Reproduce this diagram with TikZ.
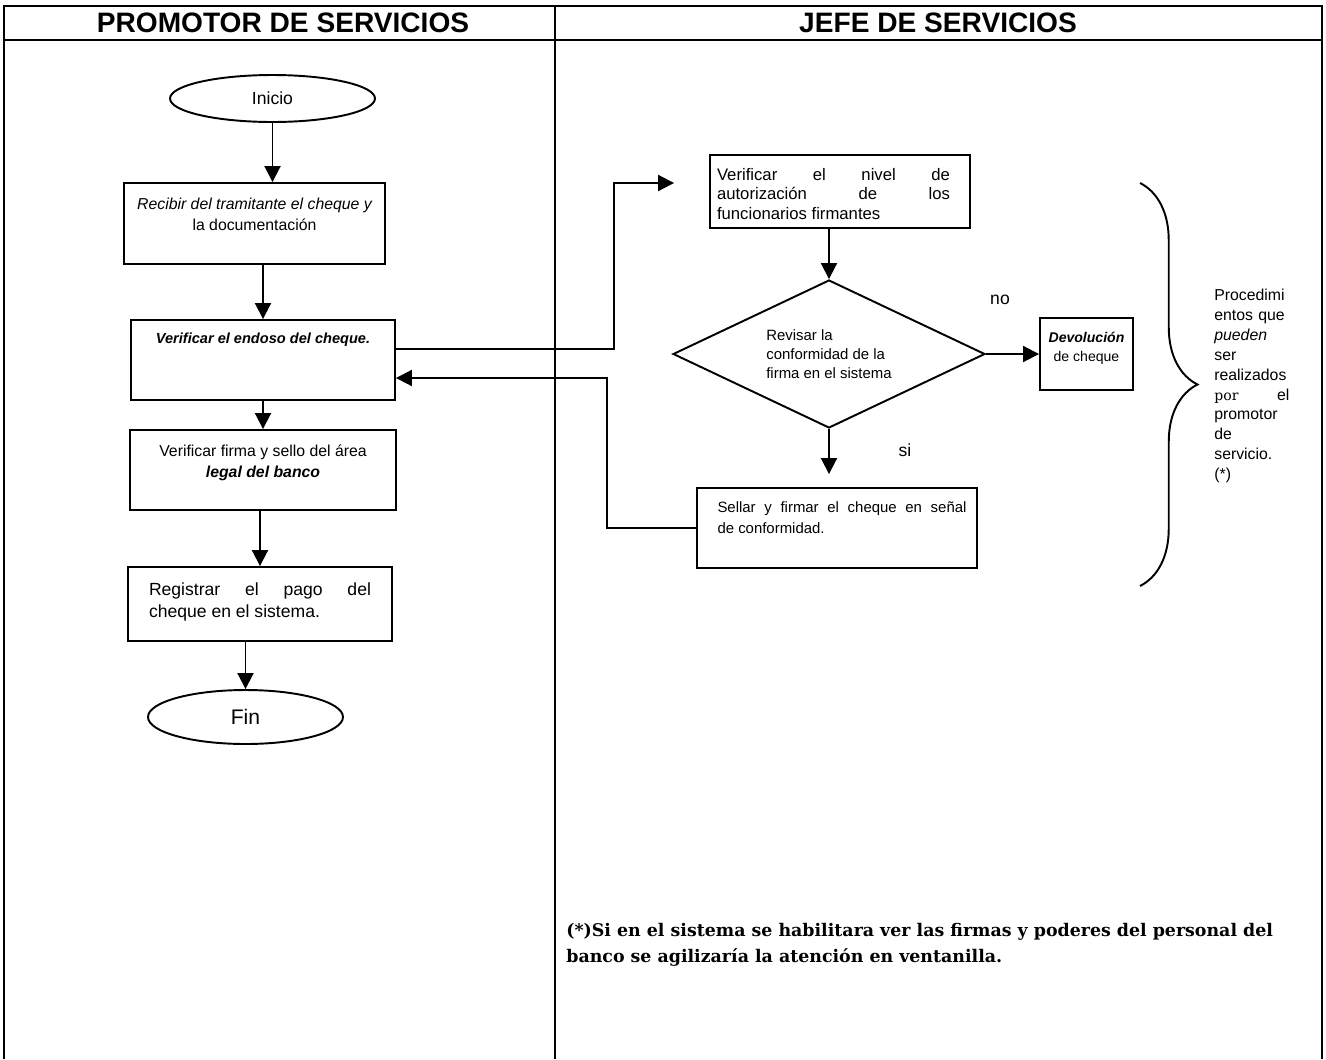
\documentclass[tikz,border=0pt]{standalone}
\usepackage{fontspec}
\setmainfont{Liberation Sans}
\newfontfamily\notefont{DejaVu Serif}
\usetikzlibrary{shapes,arrows.meta,positioning,calc,decorations.pathreplacing}

\tikzset{
  stepbox/.style={draw, line width=1.1pt, inner sep=0pt, font=\fontsize{9}{12}\selectfont},
  terminal/.style={draw, ellipse, line width=1.1pt},
  decision/.style={draw, diamond, aspect=2.1, line width=1.1pt, inner sep=0pt, align=left, font=\fontsize{8.5}{11}\selectfont},
  flow/.style={line width=1.1pt, -{Triangle[length=0.32cm,width=0.32cm]}},
  lane/.style={line width=0.8pt},
  header/.style={font=\fontsize{16}{18}\selectfont\bfseries}
}

\begin{document}
\begin{tikzpicture}[x=0.02cm, y=-0.02cm]
    \useasboundingbox (0,0) rectangle (1326,1059);

    % Swimlanes
    \draw[lane] (4,1059) -- (4,6) -- (1322,6) -- (1322,1059);
    \draw[lane] (4,40) -- (1322,40);
    \draw[lane] (555,6) -- (555,1059);
    \node[header] (promotor) at (283,23) {PROMOTOR DE SERVICIOS};
    \node[header] (jefe) at (938,23) {JEFE DE SERVICIOS};

    % Promotor de servicios
    \node[terminal, minimum width=4.1cm, minimum height=0.94cm, font=\fontsize{10}{12}\selectfont] (inicio) at (272.5,98.5) {Inicio};
    \node[stepbox, minimum width=5.22cm, minimum height=1.62cm] (recibir) at (254.5,223.5)
        {\parbox[c][1.02cm][t]{5.0cm}{\centering\itshape Recibir del tramitante el cheque y\\\upshape la documentación}};
    \node[stepbox, minimum width=5.28cm, minimum height=1.6cm] (endoso) at (263,360)
        {\parbox[c][1.08cm][t]{5.0cm}{\centering\fontsize{8.3}{11}\selectfont\bfseries\itshape Verificar el endoso del cheque.}};
    \node[stepbox, minimum width=5.32cm, minimum height=1.6cm] (firma) at (263,470)
        {\parbox[c][1.0cm][t]{5.0cm}{\centering Verificar firma y sello del área\\\bfseries\itshape legal del banco}};
    \node[stepbox, minimum width=5.28cm, minimum height=1.48cm, font=\fontsize{10}{12.5}\selectfont] (registrar) at (260,604)
        {\parbox[c][0.84cm][t]{4.44cm}{\makebox[\linewidth][s]{Registrar el pago del}\\cheque en el sistema.}};
    \node[terminal, minimum width=3.9cm, minimum height=1.08cm, font=\fontsize{12}{14}\selectfont] (fin) at (245.5,717) {Fin};

    \draw[flow] (inicio.south) -- (inicio.south |- recibir.north);
    \draw[flow] (recibir.south -| endoso.north) -- (endoso.north);
    \draw[flow] (endoso.south) -- (firma.north);
    \draw[flow] (firma.south -| registrar.north) -- (registrar.north);
    \draw[flow] (fin.north |- registrar.south) -- (fin.north);

    % Jefe de servicios
    \node[stepbox, minimum width=5.2cm, minimum height=1.46cm, font=\fontsize{9.5}{11.3}\selectfont] (nivel) at (840,191.5)
        {\hspace*{-0.26cm}\parbox[c][0.94cm][t]{4.66cm}{\makebox[\linewidth][s]{Verificar el nivel de}\\\makebox[\linewidth][s]{autorización de los}\\funcionarios firmantes}};
    \node[decision, minimum width=6.24cm, minimum height=2.96cm] (revisar) at (829,354)
        {Revisar la\\conformidad de la\\firma en el sistema};
    \node[stepbox, minimum width=1.86cm, minimum height=1.44cm, font=\fontsize{8}{10.8}\selectfont] (devolucion) at (1086.5,354)
        {\parbox[c][0.88cm][t]{1.7cm}{\centering\bfseries\itshape Devolución\\\mdseries\upshape de cheque}};
    \node[stepbox, minimum width=5.6cm, minimum height=1.6cm, font=\fontsize{8.5}{12}\selectfont] (sellar) at (837,528)
        {\hspace*{0.2cm}\parbox[c][1.04cm][t]{4.98cm}{\makebox[\linewidth][s]{Sellar y firmar el cheque en señal}\\de conformidad.}};
    \node[font=\fontsize{10}{12}\selectfont] (no) at (1000,300) {no};
    \node[font=\fontsize{10}{12}\selectfont] (si) at (905,450) {si};

    \draw[flow, shorten >=0.7cm] ([yshift=0.22cm]endoso.east) -- ++(218,0) |- ([yshift=0.17cm]nivel.west);
    \draw[flow] (revisar.north |- nivel.south) -- (revisar.north);
    \draw[flow] (revisar.east) -- (devolucion.west);
    \draw[flow, shorten >=0.26cm] (revisar.south) -- (revisar.south |- sellar.north);
    \draw[flow] (sellar.west) -- ++(-89,0) |- ([yshift=-0.36cm]endoso.east);

    % Brace and side note
    \draw[line width=1.1pt, decorate, decoration={brace, amplitude=1.15cm}] (1140,183) -- (1140,586);
    \node[anchor=north west, inner sep=0pt, text width=1.5cm, align=left, font=\fontsize{9}{11.3}\selectfont] (procedimientos) at (1214,289)
        {Procedimi\\entos que\\\textit{pueden}\\ser\\realizados\\\makebox[\linewidth][s]{{\notefont\fontsize{8}{11.3}\selectfont por}\hfill el}\\promotor\\de\\servicio.\\(*)};

    % Footnote
    \node[anchor=north west, inner sep=0pt, align=left, font=\notefont\bfseries\fontsize{9.9}{14.7}\selectfont] (nota) at (566,923)
        {(*)Si en el sistema se habilitara ver las firmas y poderes del personal del\\banco se agilizaría la atención en ventanilla.};
\end{tikzpicture}
\end{document}
